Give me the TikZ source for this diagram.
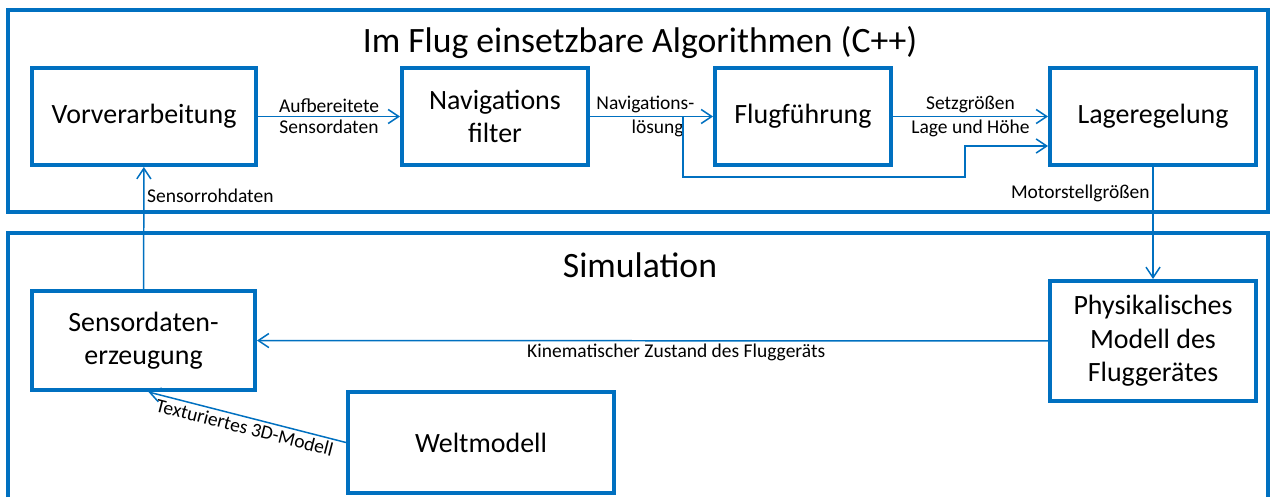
\documentclass[tikz,border=0pt]{standalone}
\usepackage{fontspec}
\setmainfont{Carlito}
\usetikzlibrary{arrows.meta}
\definecolor{officeblue}{RGB}{0,112,192}

\begin{document}
\begin{tikzpicture}[x=0.02cm, y=-0.02cm,
    frame/.style={draw=officeblue, line width=2.3pt},
    block/.style={draw=officeblue, line width=2.3pt, align=center, font=\fontsize{15.9}{19}\selectfont, inner sep=0pt},
    conn/.style={draw=officeblue, line width=0.85pt, -{Straight Barb[length=6pt, width=8pt]}},
    lbl/.style={font=\fontsize{11.1}{13}\selectfont, inner sep=1.5pt}]
  \useasboundingbox (0,0) rectangle (1274,497);

  % obere Ebene
  \draw[frame] (8,10) rectangle (1268,212);
  \node (titleflug) at (640,43) {\fontsize{20.3}{24}\selectfont Im Flug einsetzbare Algorithmen (C++)};

  \node[block, minimum width=4.48cm, minimum height=1.94cm] (vor) at (144,116.5) {Vorverarbeitung};
  \node[block, minimum width=3.72cm, minimum height=1.94cm] (nav) at (495,116.5) {Navigations\\filter};
  \node[block, minimum width=3.52cm, minimum height=1.94cm] (flug) at (803,116.5) {Flugführung};
  \node[block, minimum width=4.12cm, minimum height=1.94cm] (lage) at (1153,116.5) {Lageregelung};

  \draw[conn] (vor) -- (nav)
    node[lbl, midway, above] {Aufbereitete}
    node[lbl, midway, below] {Sensordaten};
  \draw[conn] (nav) -- (flug)
    node[lbl, pos=0.45, above] {Navigations-}
    node[lbl, pos=0.55, below] {lösung};
  \draw[conn] (flug) -- (lage)
    node[lbl, midway, above] {Setzgrößen}
    node[lbl, midway, below] {Lage und Höhe};

  \coordinate (split) at (683,116.5);
  \coordinate (knee) at (965,177);
  \draw[conn] (split) |- (knee) |- ([yshift=-0.59cm]lage.west);

  % untere Ebene
  \draw[frame] (8,497) -- (8,233) -- (1268,233) -- (1268,497);
  \node (titlesim) at (640,265) {\fontsize{20.3}{24}\selectfont Simulation};

  \node[block, minimum width=4.46cm, minimum height=1.98cm] (sens) at (143.5,340.5) {Sensordaten-\\erzeugung};
  \node[block, minimum width=4.12cm, minimum height=2.4cm] (phys) at (1153,341) {Physikalisches\\Modell des\\Fluggerätes};
  \node[block, minimum width=5.32cm, minimum height=2.02cm] (welt) at (481,442.5) {Weltmodell};

  \draw[conn] (lage) -- (phys)
    node[lbl, pos=0.24, left] {Motorstellgrößen};
  \draw[conn] (sens) -- (vor)
    node[lbl, pos=0.76, right] {Sensorrohdaten};
  \draw[conn] (phys) -- (sens)
    node[lbl, pos=0.47, below] {Kinematischer Zustand des Fluggeräts};
  \draw[conn] (welt.west) -- ([xshift=0.1cm]sens.south)
    node[lbl, midway, sloped, below] {Texturiertes 3D-Modell};
\end{tikzpicture}
\end{document}
